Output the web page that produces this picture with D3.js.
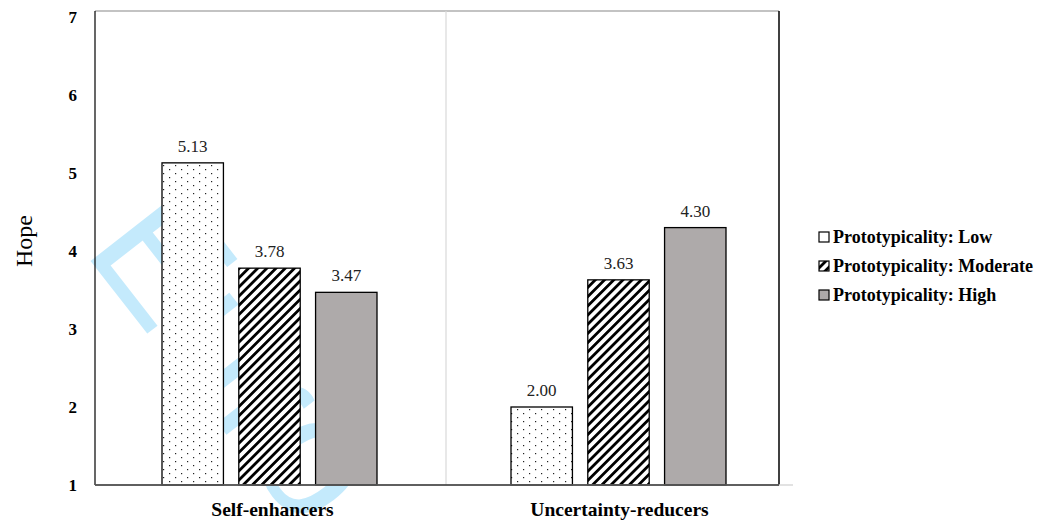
<!DOCTYPE html>
<html><head><meta charset="utf-8">
<script src="https://cdn.jsdelivr.net/npm/d3@7"></script>
<style>body{margin:0;background:#fff}svg{display:block}</style>
</head><body>
<script>
const categories = ["Self-enhancers", "Uncertainty-reducers"];
const seriesNames = ["Prototypicality: Low", "Prototypicality: Moderate", "Prototypicality: High"];
const lowValues = [5.13, 2.00];
const moderateValues = [3.78, 3.63];
const highValues = [3.47, 4.30];
const yTicks = [1, 2, 3, 4, 5, 6, 7];
const yLabel = "Hope";

(function(){
const W = 1044, H = 526;
const SERIF = "'Liberation Serif', 'Times New Roman', Times, serif";
const svg = d3.select("body").append("svg").attr("width", W).attr("height", H);
const defs = svg.append("defs");

// dotted pattern
const pd = defs.append("pattern").attr("id","dots").attr("patternUnits","userSpaceOnUse")
  .attr("width",12).attr("height",8);
pd.append("rect").attr("width",12).attr("height",8).attr("fill","#fff");
pd.append("rect").attr("x",1).attr("y",1).attr("width",1.2).attr("height",1.2).attr("fill","#222");
pd.append("rect").attr("x",7).attr("y",5).attr("width",1.2).attr("height",1.2).attr("fill","#222");
// hatch pattern
const ph = defs.append("pattern").attr("id","hatch").attr("patternUnits","userSpaceOnUse")
  .attr("width",6.5).attr("height",6.5).attr("patternTransform","rotate(45)");
ph.append("rect").attr("width",6.5).attr("height",6.5).attr("fill","#fff");
ph.append("rect").attr("x",0).attr("y",0).attr("width",2.8).attr("height",6.5).attr("fill","#000");

const fills = ["url(#dots)","url(#hatch)","#aeaaaa"];

// watermark
svg.append("text").attr("transform","translate(82,250) rotate(52)")
  .style("font-family","'Liberation Sans', Arial, sans-serif").attr("font-size",170)
  .attr("fill","#c4eafc").text("Euro");

const pL = 95, pT = 11, pR = 779, pB = 485, axisEnd = 793;
const x0 = d3.scaleBand().domain(categories).range([pL, axisEnd]);
const x1 = d3.scaleBand().domain(d3.range(3)).range([0, 215]).paddingInner(0.2);
const y = d3.scaleLinear().domain([1,7]).range([pB, 17]);

// box
svg.append("line").attr("x1",pL).attr("x2",pR).attr("y1",pT).attr("y2",pT).attr("stroke","#888").attr("stroke-width",1.2);
svg.append("line").attr("x1",pL).attr("x2",pL).attr("y1",pT).attr("y2",pB).attr("stroke","#000").attr("stroke-width",1.2);
svg.append("line").attr("x1",pR).attr("x2",pR).attr("y1",pT).attr("y2",pB).attr("stroke","#000").attr("stroke-width",1.5);
// divider
svg.append("line").attr("x1",x0(categories[1])+2).attr("x2",x0(categories[1])+2).attr("y1",pT).attr("y2",pB)
  .attr("stroke","#d9d9d9").attr("stroke-width",1.2);

const data = categories.map((c,i)=>[lowValues[i], moderateValues[i], highValues[i]]);
const g = svg.append("g");
categories.forEach((c,ci)=>{
  const gx = x0(c) + x0.bandwidth()/2 - 107.5;
  data[ci].forEach((v,si)=>{
    const bx = gx + x1(si);
    g.append("rect").attr("x",bx).attr("y",y(v)).attr("width",x1.bandwidth()).attr("height",y(1)-y(v))
      .attr("fill",fills[si]).attr("stroke","#000").attr("stroke-width",1.3);
    g.append("text").attr("x",bx + x1.bandwidth()/2).attr("y",y(v)-11)
      .attr("text-anchor","middle").style("font-family",SERIF)
      .attr("font-size",17).attr("fill","#222").text(v.toFixed(2));
  });
});

// bottom axis line
svg.append("line").attr("x1",pL).attr("x2",axisEnd).attr("y1",pB).attr("y2",pB).attr("stroke","#d9d9d9").attr("stroke-width",1.5);
svg.append("line").attr("x1",pL).attr("x2",pR).attr("y1",pB).attr("y2",pB).attr("stroke","#333").attr("stroke-width",1.5);

// y axis ticks
const ya = svg.append("g").attr("transform",`translate(${pL},0)`)
  .call(d3.axisLeft(y).tickValues(yTicks).tickFormat(d3.format("d")).tickSize(0).tickPadding(18));
ya.select(".domain").remove();
ya.selectAll("text").style("font-family",SERIF).attr("font-weight","bold")
  .attr("font-size",17).attr("fill","#000");

// x labels
const xa = svg.append("g").attr("transform",`translate(0,${pB})`)
  .call(d3.axisBottom(x0).tickSize(0).tickPadding(17));
xa.select(".domain").remove();
xa.selectAll("text").style("font-family",SERIF).attr("font-weight","bold")
  .attr("font-size",19.5).attr("fill","#000")
  .attr("transform",(d,i)=>`translate(${i===0?3:1},0)`);

// y label
svg.append("text").attr("transform","translate(32,241) rotate(-90)").attr("text-anchor","middle")
  .style("font-family",SERIF).attr("font-size",24).text(yLabel);

// legend
const lg = svg.append("g").attr("transform","translate(819,237)");
seriesNames.forEach((s,i)=>{
  const row = lg.append("g").attr("transform",`translate(0,${i*29})`);
  row.append("rect").attr("x",0).attr("y",-5).attr("width",10).attr("height",10)
    .attr("fill", i===1 ? "url(#hatch)" : (i===0?"#fff":"#aeaaaa")).attr("stroke","#000").attr("stroke-width",1.2);
  row.append("text").attr("x",14).attr("y",6).style("font-family",SERIF)
    .attr("font-weight","bold").attr("font-size",18).text(s);
});
})();
</script>
</body></html>
